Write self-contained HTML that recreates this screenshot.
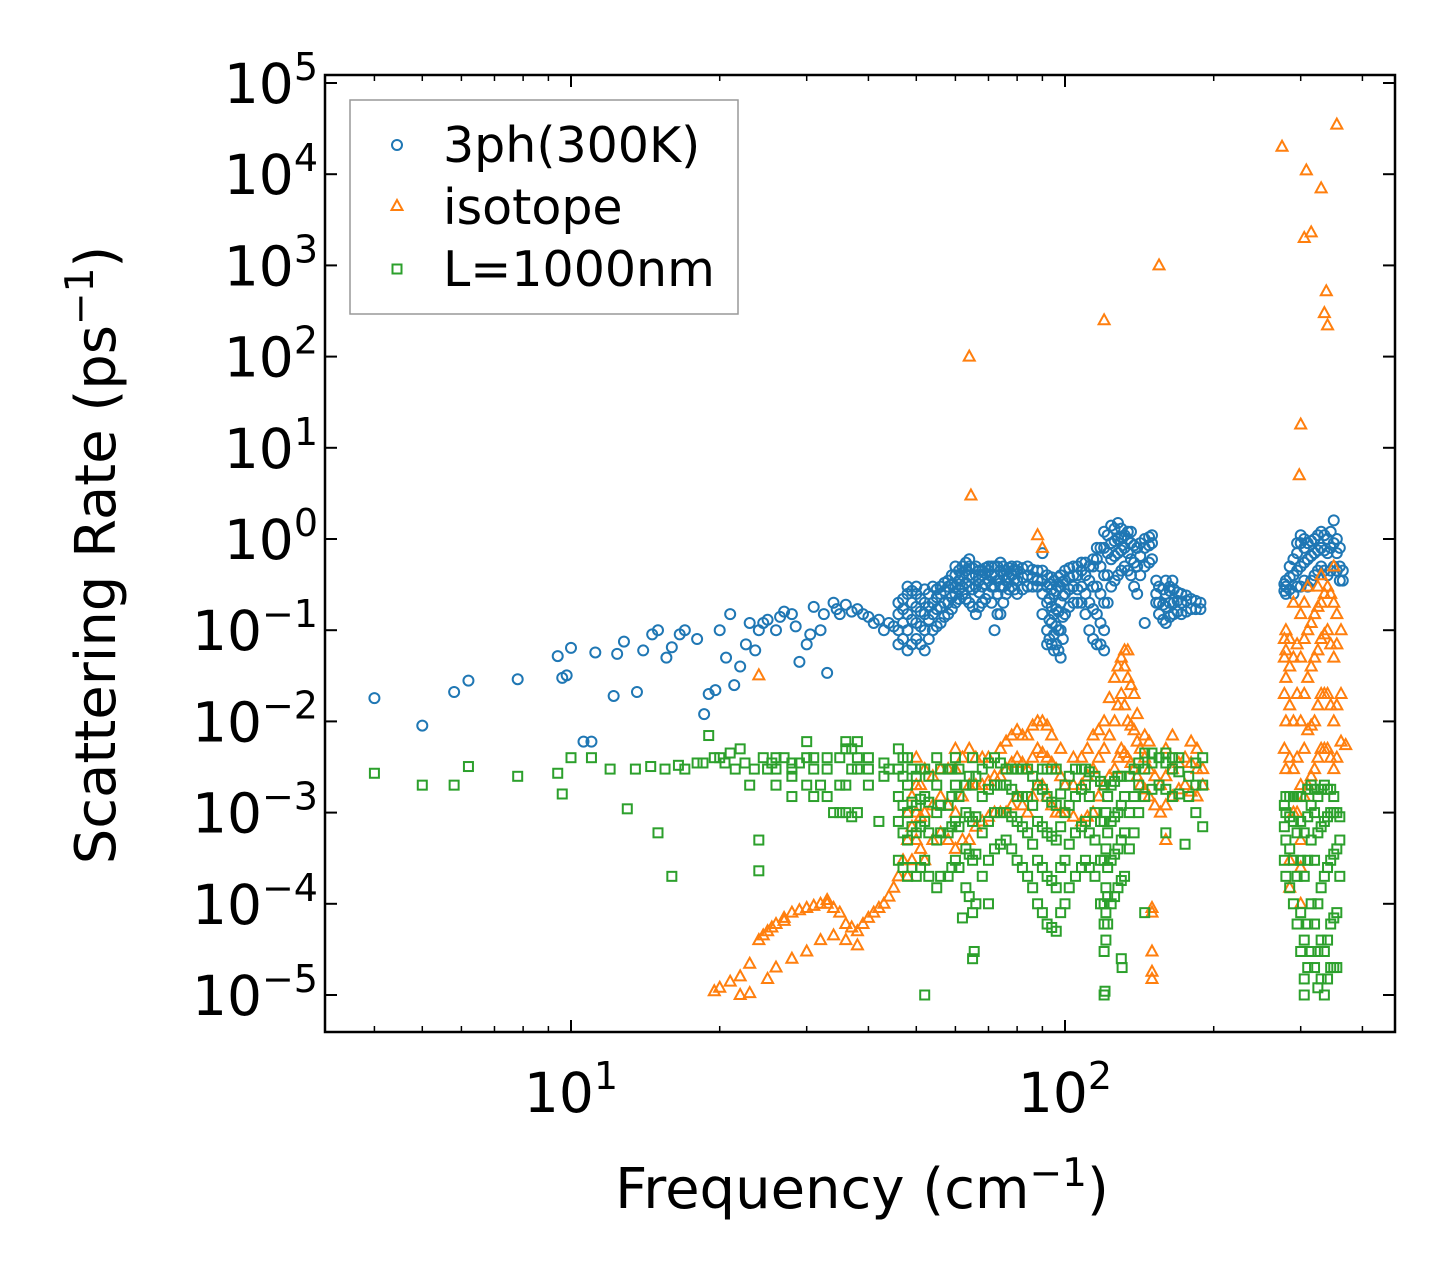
<!DOCTYPE html>
<html><head><meta charset="utf-8"><style>
html,body{margin:0;padding:0;background:#fff;}
svg{display:block;font-family:"DejaVu Sans","Liberation Sans",sans-serif;}
</style></head><body>
<svg id="chart" width="1455" height="1282" viewBox="0 0 1455 1282" xmlns="http://www.w3.org/2000/svg">
<rect x="0" y="0" width="1455" height="1282" fill="#fff"/>
<g id="marks"></g>
<g id="axes"></g>
<g>
<rect x="350" y="100" width="388" height="214" fill="#fff" fill-opacity="0.8" stroke="#999" stroke-width="1.5"/>
<circle cx="397" cy="145" r="5" fill="none" stroke="#1f77b4" stroke-width="2"/>
<text x="443" y="162" font-size="49">3ph(300K)</text>
<polygon points="397,200 402.5,210 391.5,210" fill="none" stroke="#ff7f0e" stroke-width="2"/>
<text x="443" y="224" font-size="49">isotope</text>
<rect x="392.5" y="264.5" width="9" height="9" fill="none" stroke="#2ca02c" stroke-width="2"/>
<text x="443" y="286" font-size="49">L=1000nm</text>
</g>
<text x="862" y="1208" font-size="56" text-anchor="middle">Frequency (cm<tspan dy="-22" font-size="39">−1</tspan><tspan dy="22">)</tspan></text>
<text transform="translate(115,555) rotate(-90)" font-size="56" text-anchor="middle">Scattering Rate (ps<tspan dy="-22" font-size="39">−1</tspan><tspan dy="22">)</tspan></text>
</svg>
<script>
// categories / tick values
const xMajorExp = [1, 2];
const xMinorVals = [4,5,6,7,8,9,20,30,40,50,60,70,80,90,200,300,400];
const yMajorExp = [-5,-4,-3,-2,-1,0,1,2,3,4,5];
// series: sparse points [x, y]
const s3phSparse = [[4,0.018],[5,0.009],[5.8,0.021],[6.2,0.028],[7.8,0.029],[9.4,0.052],[9.6,0.03],[10,0.064],[9.8,0.032],[10.6,0.006],[11,0.006],[11.2,0.057],[12.2,0.019],[12.4,0.055],[12.8,0.075],[13.6,0.021],[14,0.06],[14.6,0.09],[15,0.1],[15.6,0.05],[16,0.065],[16.6,0.09],[17,0.1],[18,0.08],[18.6,0.012],[19,0.02],[19.6,0.022],[20,0.1],[20.6,0.05],[21,0.15],[21.4,0.025],[22,0.04],[22.6,0.07],[23,0.12],[23.6,0.06],[24,0.1],[25,0.13],[26,0.1],[27,0.16],[28,0.15],[29,0.045],[30,0.07],[31,0.18],[32,0.1],[33,0.034],[34,0.2],[35,0.15],[36,0.19],[38,0.17],[40,0.14],[42,0.13],[44,0.12],[90,0.7],[145,0.12],[165,0.35],[24.5,0.12],[26.5,0.14],[28.5,0.11],[30.5,0.09],[32.5,0.15],[34.5,0.17],[37,0.16],[39,0.15],[41,0.12],[43,0.1],[45,0.11]];
// dense rows: [x, y1, y2, ...]
const s3phDense = [[46,.07,.1,.15,.2],[47,.08,.12,.17,.22],[48,.06,.1,.15,.25,.3],[49,.07,.13,.2,.27],[50,.08,.12,.18,.25,.3],[51,.07,.11,.16,.22],[52,.06,.1,.15,.2,.28],[53,.08,.13,.18,.25],[54,.1,.15,.2,.3],[55,.11,.17,.23,.28],[56,.12,.18,.25,.3],[57,.14,.2,.27,.33],[58,.15,.2,.3,.35],[59,.17,.23,.32,.4],[60,.2,.25,.3,.4,.5],[61,.22,.28,.35,.45],[62,.25,.3,.4,.5],[63,.22,.33,.45,.55],[64,.2,.3,.4,.5,.6],[65,.18,.28,.38,.48],[66,.15,.3,.4,.5],[67,.18,.26,.35,.45],[68,.2,.3,.4,.45],[69,.22,.32,.42,.48],[70,.25,.35,.45,.5],[71,.2,.3,.4,.5],[72,.1,.3,.4,.5],[73,.15,.25,.35,.5],[74,.15,.3,.45,.55],[75,.2,.3,.4,.5],[76,.25,.35,.45],[77,.28,.38,.48],[78,.3,.4,.5],[79,.28,.36,.46],[80,.25,.35,.45,.5],[82,.28,.38,.48],[84,.3,.4,.5],[86,.3,.38,.46],[88,.3,.35,.45],[90,.15,.25,.35,.45],[92,.07,.1,.2,.3,.4],[93,.08,.13,.22,.32],[94,.07,.12,.18,.28,.38],[95,.06,.09,.15,.25,.35],[96,.07,.11,.17,.27],[97,.06,.1,.16,.3,.38],[98,.05,.1,.2,.3,.4],[99,.08,.14,.24,.34],[100,.15,.25,.35,.45],[102,.18,.28,.38,.48],[104,.2,.3,.4,.5],[106,.2,.28,.4,.5],[108,.2,.3,.45,.55],[110,.15,.25,.4,.55],[112,.1,.2,.35,.5],[114,.08,.17,.3,.5,.6],[116,.07,.15,.3,.6,.8],[118,.07,.12,.25,.5,.8],[120,.06,.1,.2,.4,.8,1.2],[122,.2,.4,.7,1.1],[124,.3,.6,.9,1.4],[126,.35,.65,.95,1.3],[128,.4,.7,1.0,1.5],[130,.45,.75,1.05,1.3],[132,.5,.8,1.1],[134,.45,.7,1.0,1.2],[136,.4,.6,.9,1.2],[138,.3,.55,.85],[140,.25,.5,.8],[142,.4,.65,.9],[145,.5,.8,1.0],[148,.55,.85,1.05],[150,.6,.9,1.1],[153,.2,.25,.35],[155,.15,.2,.3],[158,.13,.19,.28],[160,.12,.18,.25,.35],[163,.14,.2,.27,.3],[166,.15,.2,.28],[169,.16,.21,.26],[172,.15,.2,.25],[176,.16,.21,.24],[180,.17,.22],[184,.17,.21],[188,.17,.2],[278,.27,.32],[280,.25,.3,.35],[285,.28,.38,.5],[290,.25,.4,.6],[295,.3,.45,.7,.9],[300,.3,.5,.9,1.1],[305,.35,.55,.8,1.0],[310,.3,.6,.9],[315,.35,.65,.95],[320,.4,.7,1.0],[325,.45,.75,1.1],[330,.5,.8,1.2],[335,.45,.75,1.1],[340,.4,.7,1.0],[345,.45,.8,1.2],[350,.5,.9,1.6],[355,.45,.7,1.0],[360,.35,.5,.8],[365,.35,.45]];
const isoSparse = [[64,100],[64.5,3],[88,1.1],[90,0.8],[120,250],[155,1000],[275,2e4],[300,18],[298,5],[305,2000],[308,1.1e4],[315,2300],[330,7000],[335,300],[338,520],[340,220],[355,3.5e4],[24,0.032],[19.5,1.1e-5],[20,1.2e-5],[21,1.4e-5],[22,1.6e-5],[23,2.2e-5],[24,4e-5],[25,5e-5],[26,6e-5],[27,7e-5],[28,8e-5],[30,9e-5],[32,1e-4],[33,1.1e-4],[34,9e-5],[36,6e-5],[38,5e-5],[40,7e-5],[42,9e-5],[44,1.2e-4],[46,2e-4],[22,1e-5],[23,1.05e-5],[25,1.5e-5],[26,2e-5],[28,2.5e-5],[30,3e-5],[32,4e-5],[34,4.5e-5],[36,4e-5],[38,3.5e-5],[150,9e-5],[150,8e-5],[150,3e-5],[150,1.8e-5],[150,1.5e-5],[160,5e-4],[370,5.5e-3],[24.5,4.5e-5],[25.5,5.5e-5],[27,6.5e-5],[29,8.5e-5],[31,9.5e-5],[33,1e-4],[35,8e-5],[37,5.5e-5],[39,6e-5],[41,8e-5],[43,1e-4],[45,1.5e-4],[47,3e-4]];
const isoDense = [[48,2e-4,5e-4,1e-3],[49,3e-4,7e-4,1.5e-3],[50,5e-4,1e-3,2e-3,4e-3],[51,4e-4,9e-4,2e-3],[52,3e-4,1e-3,3e-3],[54,5e-4,1.2e-3,2.5e-3],[56,6e-4,1.5e-3,3e-3],[58,5e-4,1.2e-3,3e-3],[60,4e-4,1e-3,3e-3,5e-3],[62,5e-4,1.5e-3,4e-3],[64,5e-4,2e-3,5e-3],[66,7e-4,2e-3,4e-3],[68,8e-4,2e-3,4e-3],[70,9e-4,2.2e-3,4e-3],[72,1e-3,2.5e-3],[74,1e-3,2.5e-3,5e-3],[76,1e-3,3e-3,6e-3],[78,1.2e-3,3.5e-3,7e-3],[80,1.5e-3,4e-3,8e-3],[82,1.2e-3,3.5e-3,7e-3],[84,1e-3,3e-3,7e-3],[86,1.5e-3,4e-3,9e-3],[88,2e-3,5e-3,1e-2],[90,2e-3,4.5e-3,1e-2],[92,1.5e-3,4e-3,9e-3],[94,1.2e-3,3.5e-3,7e-3],[96,1e-3,3e-3],[98,1e-3,2.5e-3,5e-3],[100,1e-3,2e-3],[104,9e-4,2e-3,4e-3],[108,8e-4,2e-3,4e-3],[111,9e-4,2.5e-3,5e-3],[114,1e-3,3e-3,7e-3],[117,1.5e-3,4e-3,8e-3],[120,2e-3,5e-3,1e-2],[123,2.5e-3,7e-3,1.8e-2],[126,3e-3,1e-2,3e-2],[128,4e-3,1.5e-2,4e-2],[130,5e-3,2e-2,5e-2],[132,4.5e-3,1.5e-2,4e-2,6e-2],[134,4e-3,1e-2,3e-2,6e-2],[136,3.5e-3,9e-3,2.5e-2],[138,3e-3,8e-3,2e-2],[140,2.5e-3,6e-3,1.2e-2],[142,2e-3,5e-3],[145,1.8e-3,4e-3,7e-3],[148,1.5e-3,3e-3,6e-3],[152,1.2e-3,2.5e-3],[156,1e-3,2e-3],[160,1.2e-3,2.5e-3,5e-3],[165,1.5e-3,3e-3,7e-3],[170,1.8e-3,3.5e-3],[175,2e-3,4e-3],[180,1.7e-3,3.5e-3,6e-3],[185,1.5e-3,3e-3,5e-3],[190,2e-3,3e-3],[278,5e-3,2e-2,5e-2,8e-2],[280,3e-3,1e-2,3e-2,6e-2,1e-1],[285,1.5e-4,3e-4,4e-3,1.5e-2,4e-2,8e-2],[290,1e-3,3e-3,1e-2,5e-2,2e-1],[295,1e-3,4e-3,2e-2,7e-2],[300,1e-4,2.5e-4,5e-4,2e-3,1e-2,5e-2,1.5e-1],[305,1.5e-3,5e-3,2e-2,8e-2,2e-1],[310,2e-3,8e-3,3e-2,1e-1,3e-1],[315,2.5e-3,9e-3,4e-2,1.2e-1],[320,3e-3,1e-2,5e-2,1.5e-1],[325,4e-3,1.5e-2,6e-2,1.8e-1,3e-1],[330,5e-3,2e-2,8e-2,2e-1,4e-1],[335,5e-3,2e-2,9e-2,2.5e-1],[340,5e-3,2e-2,1e-1,3e-1],[345,4e-3,1.5e-2,7e-2,2.5e-1],[350,3e-3,1e-2,5e-2,2e-1,5e-1],[355,4e-3,1.5e-2,7e-2,1.5e-1],[362,6e-3,2e-2,1e-1]];
const bndSparse = [[4,2.7e-3],[5,2e-3],[5.8,2e-3],[6.2,3.2e-3],[7.8,2.5e-3],[9.4,2.7e-3],[9.6,1.6e-3],[10,4e-3],[11,4e-3],[12,3e-3],[13,1.1e-3],[15,6e-4],[16,2e-4],[17,3e-3],[18,3.5e-3],[19,7e-3],[20,4e-3],[22,5e-3],[23,2e-3],[24,5e-4],[24,2.3e-4],[25,3e-3],[28,3e-3],[30,6e-3],[32,2e-3],[34,1e-3],[36,6e-3],[38,4e-3],[40,3e-3],[42,8e-4],[44,3e-3],[52,1e-5],[65,2.5e-5],[65.5,3e-5],[62,7e-5],[70,1e-4],[120,1e-5],[120.5,1.1e-5],[130,2.5e-5],[130.5,2e-5],[145,8e-5],[175,4.5e-4],[160,6e-4],[13.5,3e-3],[14.5,3.2e-3],[15.5,3e-3],[16.5,3.3e-3],[18.5,3.5e-3],[19.5,4e-3],[20.5,3.5e-3],[21,4.5e-3],[21.5,3e-3],[22.5,3.5e-3],[23.5,3e-3],[24.5,4e-3],[25.5,3.5e-3],[27,4e-3],[29,3.5e-3]];
const bndDense = [[26,2e-3,3e-3,4e-3],[28,1.5e-3,2.5e-3,3.5e-3],[30,2e-3,4e-3],[31,1.5e-3,3e-3,4e-3],[33,1.5e-3,3e-3,4e-3],[35,1e-3,2e-3,4e-3],[36,1e-3,2e-3,5e-3],[37,9e-4,3e-3,5e-3],[38,1e-3,3e-3,6e-3],[40,2e-3,4e-3],[43,2.5e-3,3.5e-3],[46,3e-4,8e-4,1.5e-3,3e-3,5e-3],[47,2.5e-4,6e-4,1.2e-3,2.5e-3,4e-3],[48,2e-4,5e-4,1e-3,2e-3,4e-3],[49,2.5e-4,7e-4,1.3e-3,3e-3],[50,2e-4,6e-4,1.2e-3,2.5e-3],[51,2.5e-4,7e-4,1.4e-3,3e-3],[52,3e-4,8e-4,1.5e-3,3e-3],[53,2e-4,6e-4,1.3e-3,2.5e-3],[55,1.5e-4,5e-4,1e-3,2e-3,4e-3],[56,2e-4,6e-4,1.2e-3,3e-3],[58,2e-4,6e-4,1.2e-3,3e-3],[59,2.5e-4,7e-4,1.5e-3,3e-3],[60,3e-4,8e-4,2e-3,4e-3],[61,2.5e-4,7e-4,1.5e-3,3e-3],[63,1.5e-4,4e-4,1e-3,2e-3],[64,1.2e-4,3.5e-4,9e-4,2.5e-3],[65,8e-5,3e-4,8e-4,2e-3,4e-3],[66,1e-4,3.5e-4,9e-4,2.5e-3],[68,2e-4,6e-4,1.5e-3,3e-3],[70,3e-4,8e-4,1.8e-3,3.5e-3],[72,4e-4,1e-3,2e-3,4e-3],[74,4.5e-4,1e-3,2e-3,3.5e-3],[76,5e-4,1e-3,2e-3,3e-3],[78,4e-4,9e-4,1.8e-3,3e-3],[80,3e-4,8e-4,1.5e-3,3e-3],[82,2.5e-4,7e-4,1.5e-3,3e-3],[84,2e-4,6e-4,1.5e-3,3e-3],[86,1.5e-4,4.5e-4,1.2e-3,2.5e-3],[88,1e-4,3e-4,8e-4,2e-3],[90,8e-5,2.5e-4,7e-4,1.8e-3,3e-3],[92,6e-5,2e-4,6e-4,1.5e-3,3e-3],[94,5.5e-5,1.8e-4,5.5e-4,1.3e-3,3e-3],[96,5e-5,1.5e-4,5e-4,1.2e-3,3e-3],[98,8e-5,2.5e-4,7e-4,1.6e-3],[100,1e-4,3e-4,1e-3,2e-3],[102,1.5e-4,4.5e-4,1.2e-3,2.5e-3],[105,2e-4,6e-4,1.5e-3,3e-3],[108,2.5e-4,7e-4,1.8e-3,3e-3],[110,3e-4,8e-4,2e-3,3e-3],[112,2.5e-4,6e-4,1.5e-3,2.8e-3],[115,2e-4,5e-4,1e-3,2.5e-3],[118,1e-4,3e-4,8e-4,2.2e-3],[120,3e-5,6e-5,1e-4,3e-4,8e-4,2e-3],[121,4e-5,8e-5,1.5e-4,4e-4,1e-3],[122,6e-5,1.2e-4,2.5e-4,6e-4,1.5e-3],[124,1e-4,3e-4,8e-4,2e-3],[126,1.2e-4,3.5e-4,9e-4,2.2e-3],[128,1.5e-4,4e-4,1e-3,2.5e-3],[130,1.8e-4,5e-4,1.2e-3,2.5e-3],[132,2e-4,6e-4,1.5e-3],[135,4e-4,1e-3,2.5e-3],[138,6e-4,1.5e-3,3e-3],[141,1e-3,2e-3,3.5e-3],[145,1.5e-3,3e-3,4.5e-3],[150,1.8e-3,3.5e-3,4.5e-3],[155,2e-3,4e-3],[160,1.8e-3,3.5e-3,4.5e-3],[165,1.5e-3,3e-3,4e-3],[170,1.6e-3,2.8e-3,4e-3],[178,1.5e-3,2.5e-3],[184,1e-3,2e-3,3.5e-3],[190,7e-4,2e-3,4e-3],[278,3e-4,7e-4,1.2e-3],[280,2e-4,5e-4,1e-3,1.5e-3],[285,1.5e-4,4e-4,9e-4,1.5e-3],[290,1e-4,3e-4,8e-4,1.5e-3],[295,6e-5,2e-4,6e-4,1.5e-3],[300,3e-5,8e-5,3e-4,8e-4,1.5e-3],[305,1e-5,1.5e-5,4e-5,2e-4,6e-4],[310,2e-5,6e-5,3e-4,9e-4,1.8e-3],[315,3e-5,1e-4,5e-4,1.2e-3,2e-3],[320,2e-5,6e-5,3e-4,1e-3,1.8e-3],[325,1.2e-5,3e-5,1e-4,6e-4,1.5e-3],[330,1.5e-5,4e-5,1.5e-4,7e-4,1.8e-3],[335,1e-5,3e-5,2e-4,8e-4,2e-3],[340,1.5e-5,4e-5,2.5e-4,9e-4,1.8e-3],[345,2e-5,6e-5,3e-4,1e-3,1.8e-3],[350,2e-5,7e-5,3.5e-4,1e-3,1.5e-3],[355,2e-5,8e-5,4e-4,1e-3],[360,2e-4,5e-4,9e-4]];

const NS = "http://www.w3.org/2000/svg";
const L = 325, R = 1395, T = 75, B = 1032;
const X1 = 571, XDEC = 494, Y0 = 539, YDEC = 91.2;
function xs(v){ return X1 + (Math.log10(v) - 1) * XDEC; }
function ys(v){ return Y0 - Math.log10(v) * YDEC; }
function el(tag, attrs, parent){
  const e = document.createElementNS(NS, tag);
  for (const k in attrs) e.setAttribute(k, attrs[k]);
  parent.appendChild(e);
  return e;
}
const marks = document.getElementById('marks');
const axes = document.getElementById('axes');
function expand(sparse, dense){
  const out = sparse.slice();
  dense.forEach(r => { for (let i = 1; i < r.length; i++) out.push([r[0], r[i]]); });
  return out;
}
function drawCircle(p){
  const e = el('circle', {cx: xs(p[0]), cy: ys(p[1]), r: 5, fill: 'none', stroke: '#1f77b4', 'stroke-width': 2}, marks);
  
  
}
function drawTri(p){
  const x = xs(p[0]), y = ys(p[1]);
  const e = el('polygon', {points: `${x},${y-6} ${x+5.5},${y+4} ${x-5.5},${y+4}`, fill: 'none', stroke: '#ff7f0e', 'stroke-width': 2}, marks);
  
  
}
function drawSq(p){
  const x = xs(p[0]), y = ys(p[1]);
  const e = el('rect', {x: x-4.5, y: y-4.5, width: 9, height: 9, fill: 'none', stroke: '#2ca02c', 'stroke-width': 2}, marks);
  
  
}
expand(s3phSparse, s3phDense).forEach(drawCircle);
expand(isoSparse, isoDense).forEach(drawTri);
expand(bndSparse, bndDense).forEach(drawSq);

// frame
const fr = el('rect', {x: L, y: T, width: R-L, height: B-T, fill: 'none', stroke: '#000', 'stroke-width': 2.5}, axes);


// x ticks
xMajorExp.forEach(ex => {
  const x = xs(Math.pow(10, ex));
  el('line', {x1: x, y1: B, x2: x, y2: B-12, stroke: '#000', 'stroke-width': 2}, axes);
  el('line', {x1: x, y1: T, x2: x, y2: T+12, stroke: '#000', 'stroke-width': 2}, axes);
  const t = el('text', {x: x, y: 1112, 'font-size': 55, 'text-anchor': 'middle'}, axes);
  
  
  t.innerHTML = `10<tspan dy="-23" font-size="38">${ex}</tspan>`;
});
xMinorVals.forEach(v => {
  const x = xs(v);
  el('line', {x1: x, y1: B, x2: x, y2: B-6, stroke: '#000', 'stroke-width': 1.5}, axes);
  el('line', {x1: x, y1: T, x2: x, y2: T+6, stroke: '#000', 'stroke-width': 1.5}, axes);
});
// y ticks
yMajorExp.forEach(ex => {
  const y = ys(Math.pow(10, ex));
  el('line', {x1: L, y1: y, x2: L+12, y2: y, stroke: '#000', 'stroke-width': 2}, axes);
  el('line', {x1: R, y1: y, x2: R-12, y2: y, stroke: '#000', 'stroke-width': 2}, axes);
  const t = el('text', {x: 318, y: y + 20, 'font-size': 55, 'text-anchor': 'end'}, axes);
  
  
  const lab = ex < 0 ? '−' + (-ex) : String(ex);
  t.innerHTML = `10<tspan dy="-23" font-size="38">${lab}</tspan>`;
});
</script>
</body></html>
